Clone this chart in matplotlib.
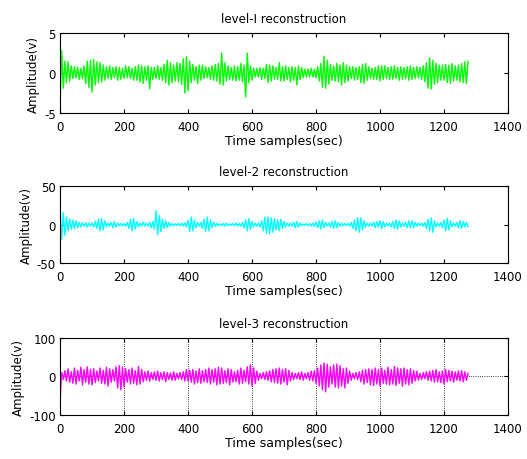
import numpy as np
import matplotlib
matplotlib.use("Agg")
import matplotlib.pyplot as plt

# amplitudes every 5 time samples
STEP = 5

level1 = [
    -3.9, 2.8, -1.9, 1.5, -1.2, 1.4, -1.0, 0.9, -0.7, 0.8, -0.6, 0.7, -0.8, 0.6, -0.7, 0.9, -1.3, 1.5, -1.8, 1.6,
    -2.4, 1.7, -1.5, 1.4, -1.2, 1.3, -1.1, 1.0, -0.9, 0.8, -0.7, 0.9, -0.8, 0.7, -0.6, 0.8, -0.9, 0.7, -0.8, 0.6,
    -0.7, 0.9, -0.6, 0.8, -0.7, 0.6, -0.9, 0.8, -0.9, 1.0, -1.1, 0.9, -1.3, 0.8, -0.9, 0.9, -2.0, 0.7, -0.8, 0.7,
    -0.7, 0.9, -0.8, 0.7, -0.9, 1.1, -1.2, 1.6, -1.5, 1.3, -1.2, 1.0, -1.0, 1.3, -1.1, 1.2, -1.4, 1.8, -2.5, 2.1,
    -2.2, 1.5, -1.2, 1.1, -0.9, 0.8, -1.3, 1.0, -0.9, 1.0, -0.7, 0.8, -0.6, 0.7, -0.8, 0.9, -0.9, 1.1, -1.0, 1.2,
    -1.4, 2.5, -1.5, 1.3, -1.0, 0.9, -0.8, 0.7, -0.9, 0.9, -1.0, 0.8, -0.9, 1.2, -1.1, 1.0, -3.0, 2.5, -1.2, 0.9,
    -0.9, 0.6, -0.5, 0.6, -0.5, 0.7, -0.8, 0.6, -0.7, 1.1, -1.2, 1.0, -1.0, 0.9, -0.8, 0.7, -0.8, 1.3, -1.0, 0.8,
    -1.0, 0.9, -0.8, 0.7, -1.1, 0.8, -0.9, 0.7, -1.5, 0.9, -0.8, 0.7, -0.6, 0.5, -0.5, 0.5, -0.5, 0.6, -0.5, 0.5,
    -0.6, 0.8, -1.0, 1.2, -1.8, 2.1, -1.9, 1.6, -1.4, 1.1, -0.9, 0.9, -1.0, 1.2, -1.1, 1.0, -1.5, 1.3, -1.2, 1.0,
    -1.0, 0.8, -0.7, 0.8, -0.9, 0.7, -0.8, 0.8, -1.2, 1.1, -1.3, 1.2, -0.9, 0.8, -0.7, 0.6, -0.8, 0.7, -0.8, 0.9,
    -1.0, 0.9, -0.8, 0.9, -0.7, 0.7, -0.8, 0.8, -0.8, 0.9, -0.7, 0.7, -0.9, 0.8, -0.8, 0.7, -0.7, 0.8, -0.9, 0.9,
    -0.8, 0.7, -0.7, 0.8, -0.6, 0.7, -0.8, 0.9, -1.1, 1.3, -1.9, 1.9, -2.0, 1.6, -1.4, 1.2, -1.2, 1.0, -0.9, 1.0,
    -0.9, 1.1, -1.2, 1.0, -1.3, 1.2, -1.0, 0.9, -0.9, 1.0, -1.1, 1.2, -1.2, 1.4, -1.3, 1.5,
]

level2 = [
    23, -19, 16, -14, 10, -8, 7, -6, 6, -5, 5, -4, 3, -3, 2, -2, 2.5, -3, 2, -2,
    2, -3, 4, -5, 7, -8, 8, -7, 5, -3, 2, -2, 3, -4, 4, -3, 2, -1.5, 1.5, -2,
    1.5, -2, 3, -5, 7, -8, 8, -6, 4, -3, 2, -2, 3, -2, 2, -2, 3, -4, 4, -6,
    18, -13, 12, -9, 7, -5, 5, -4, 3, -2, 1.5, -1.5, 1, -1, 1.5, -1.5, 2, -2, 2, -3,
    6, -9, 10, -8, 6, -4, 3, -2, 3, -5, 7, -9, 10, -8, 6, -4, 3, -2, 1.5, -1.5,
    1, -1, 1.5, -2, 2, -1.5, 1, -1, 1.5, -1.5, 2, -2, 1.5, -2, 3, -4, 6, -8, 8, -6,
    4, -3, 2, -2, 2, -3, 5, -8, 10, -11, 10, -12, 9, -10, 8, -7, 6, -8, 7, -5,
    4, -3, 2, -2, 2, -2, 3, -4, 4, -3, 2, -1.5, 1, -1, 1.5, -1.5, 1.5, -2, 2, -2,
    3, -4, 5, -6, 6, -4, 3, -2, 2, -3, 4, -5, 5, -4, 3, -2, 2, -1.5, 1.5, -1.5,
    1.5, -2, 3, -5, 6, -8, 9, -10, 9, -7, 5, -3, 2, -2, 2, -2, 3, -4, 4, -3,
    5, -5, 4, -3, 2, -2, 2, -3, 4, -5, 6, -6, 5, -3, 2, -2, 3, -4, 5, -4,
    5, -4, 3, -2, 2, -1.5, 2, -2, 3, -5, 7, -8, 9, -10, 5, -3, 2, -2, 3, -4,
    6, -8, 8, -7, 5, -3, 2, -2, 3, -4, 5, -5, 4, -3, 3, -3,
]

level3 = [
    -60, 10, -8, 15, -12, 20, -15, 12, -18, 22, -20, 16, -12, 24, -22, 18, -15, 25, -20, 18,
    -22, 20, -16, 14, -12, 22, -18, 16, -20, 24, -25, 20, -15, 18, -12, 25, -30, 28, -35, 24,
    -28, 20, -15, 18, -20, 22, -18, 15, -22, 26, -20, 18, -14, 12, -10, 14, -12, 10, -8, 12,
    -10, 14, -12, 10, -8, 12, -14, 10, -8, 9, -10, 12, -10, 8, -6, 10, -8, 12, -12, 18,
    -12, 16, -15, 18, -20, 14, -16, 20, -18, 15, -14, 18, -16, 22, -20, 18, -15, 20, -22, 24,
    -20, 22, -18, 15, -16, 20, -22, 18, -15, 12, -14, 16, -20, 22, -18, 16, -14, 25, -20, 30,
    -25, 22, -18, 14, -10, 8, -6, 10, -8, 12, -10, 15, -14, 18, -16, 20, -18, 22, -20, 18,
    -15, 20, -22, 16, -12, 10, -8, 8, -6, 10, -8, 12, -10, 8, -6, 10, -10, 14, -12, 15,
    -18, 22, -25, 30, -35, 35, -40, 32, -28, 25, -20, 30, -28, 32, -30, 28, -25, 20, -30, 22,
    -18, 14, -10, 8, -6, 10, -8, 12, -14, 16, -20, 18, -16, 20, -22, 18, -24, 22, -20, 18,
    -25, 22, -18, 16, -20, 24, -22, 18, -20, 26, -24, 22, -18, 20, -25, 22, -20, 18, -22, 20,
    -18, 15, -12, 14, -10, 8, -8, 10, -6, 12, -10, 14, -12, 16, -15, 18, -14, 12, -16, 14,
    -20, 18, -14, 16, -12, 14, -15, 12, -10, 14, -12, 15, -14, 12, -10, 8,
]

titles = ["level-I reconstruction", "level-2 reconstruction", "level-3 reconstruction"]
colors = ["#00ff00", "#00ffff", "#ff00ff"]
ylims = [5, 50, 100]
x_ticks = [0, 200, 400, 600, 800, 1000, 1200, 1400]

plt.rcParams["font.family"] = ["DejaVu Sans"]
plt.rcParams["axes.unicode_minus"] = False

fig = plt.figure(figsize=(5.27, 4.6), dpi=100)
positions = [
    [0.114, 0.752, 0.850, 0.174],
    [0.114, 0.426, 0.850, 0.167],
    [0.114, 0.096, 0.850, 0.167],
]

for k, (sig, title, color, lim) in enumerate(zip([level1, level2, level3], titles, colors, ylims)):
    ax = fig.add_axes(positions[k])
    t = np.arange(len(sig)) * STEP
    ax.plot(t, sig, color=color, linewidth=1.0)
    ax.set_xlim(0, 1400)
    ax.set_ylim(-lim, lim)
    ax.set_xticks(x_ticks)
    ax.set_yticks([-lim, 0, lim])
    ax.tick_params(direction="in", top=True, right=True, length=3, labelsize=8.5)
    ax.tick_params(axis="x", pad=5)
    ax.tick_params(axis="y", pad=3)
    ax.set_title(title, fontsize=8.5, pad=8)
    ax.set_xlabel("Time samples(sec)", fontsize=9, labelpad=1)
    ax.set_ylabel("Amplitude(v)", fontsize=8.5, labelpad=3)
    for s in ax.spines.values():
        s.set_linewidth(0.8)
    if k == 2:
        ax.grid(True, linestyle=":", color="black", linewidth=0.6)

fig.savefig("out.png", dpi=100)
